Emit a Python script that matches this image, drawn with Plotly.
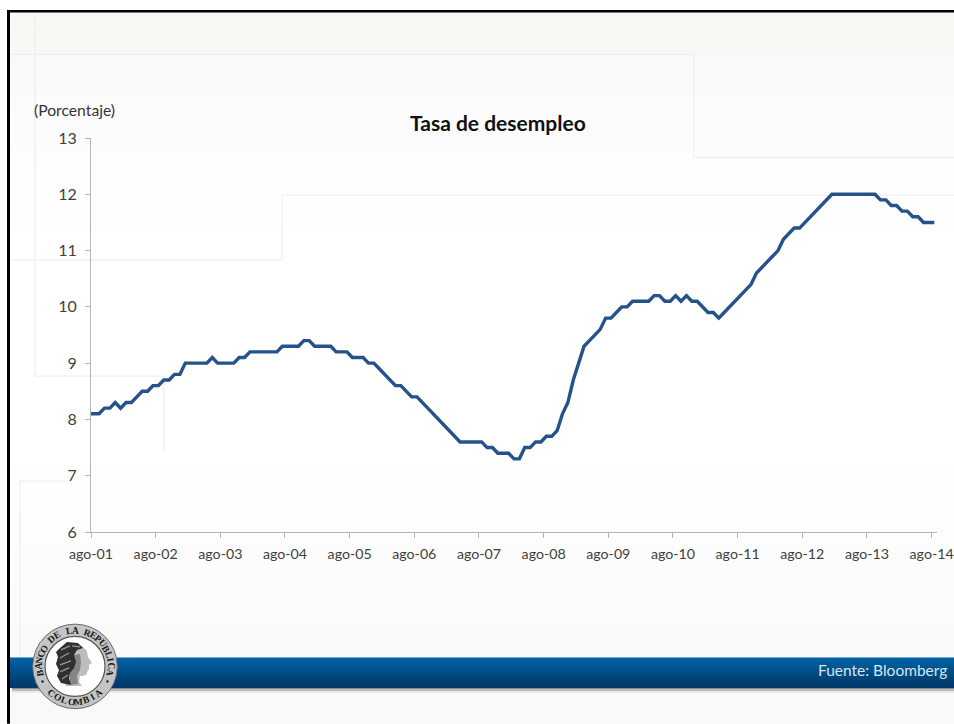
import math
import plotly.graph_objects as go

tasa = [
 8.1,8.1,8.2,8.2,8.3,8.2,8.3,8.3,8.4,8.5,8.5,8.6,
 8.6,8.7,8.7,8.8,8.8,9.0,9.0,9.0,9.0,9.0,9.1,9.0,
 9.0,9.0,9.0,9.1,9.1,9.2,9.2,9.2,9.2,9.2,9.2,9.3,
 9.3,9.3,9.3,9.4,9.4,9.3,9.3,9.3,9.3,9.2,9.2,9.2,
 9.1,9.1,9.1,9.0,9.0,8.9,8.8,8.7,8.6,8.6,8.5,8.4,
 8.4,8.3,8.2,8.1,8.0,7.9,7.8,7.7,7.6,7.6,7.6,7.6,
 7.6,7.5,7.5,7.4,7.4,7.4,7.3,7.3,7.5,7.5,7.6,7.6,
 7.7,7.7,7.8,8.1,8.3,8.7,9.0,9.3,9.4,9.5,9.6,9.8,
 9.8,9.9,10.0,10.0,10.1,10.1,10.1,10.1,10.2,10.2,10.1,10.1,
 10.2,10.1,10.2,10.1,10.1,10.0,9.9,9.9,9.8,9.9,10.0,10.1,
 10.2,10.3,10.4,10.6,10.7,10.8,10.9,11.0,11.2,11.3,11.4,11.4,
 11.5,11.6,11.7,11.8,11.9,12.0,12.0,12.0,12.0,12.0,12.0,12.0,
 12.0,12.0,11.9,11.9,11.8,11.8,11.7,11.7,11.6,11.6,11.5,11.5,11.5,
]
tick_labels = ["ago-%02d" % y for y in range(1, 15)]
y_ticks = [6, 7, 8, 9, 10, 11, 12, 13]
titulo = "Tasa de desempleo"
unidad = "(Porcentaje)"
fuente = "Fuente: Bloomberg"

W, H = 954, 724
FIG_W = 975  # the window cuts the last tick label at 954, as in the reference
L, R, T, B = 91.0, 937.0, 137.7, 532.0
px = lambda x: (x - L) / (R - L)
py = lambda y: (B - y) / (B - T)

shapes = []
def rect(x0, y0, x1, y1, color, layer="below"):
    shapes.append(dict(type="rect", xref="paper", yref="paper", x0=px(x0), x1=px(x1),
                       y0=py(y0), y1=py(y1), fillcolor=color, line_width=0, layer=layer))
def seg(pts, color="#efefef", width=1.2, layer="below"):
    for (a, b), (c, d) in zip(pts, pts[1:]):
        shapes.append(dict(type="line", xref="paper", yref="paper", x0=px(a), x1=px(c),
                           y0=py(b), y1=py(d), line=dict(color=color, width=width), layer=layer))
def lerp(c1, c2, t):
    return "rgb(%d,%d,%d)" % tuple(round(a + (b - a) * t) for a, b in zip(c1, c2))
def circle(cx, cy, r, fill, line=None, lw=0, layer="above"):
    shapes.append(dict(type="circle", xref="paper", yref="paper", x0=px(cx - r), x1=px(cx + r),
                       y0=py(cy + r), y1=py(cy - r), fillcolor=fill,
                       line=dict(color=line or fill, width=lw), layer=layer))
def poly(pts, fill, layer="above"):
    d = "M" + " L".join("%.5f,%.5f" % (px(a), py(b)) for a, b in pts) + " Z"
    shapes.append(dict(type="path", xref="paper", yref="paper", path=d, fillcolor=fill,
                       line_width=0, layer=layer))

# Slide background: each strip runs to the bottom so that no seams appear
for i in range(12):
    rect(10, 12 + i * 8, FIG_W, H, lerp((247, 247, 243), (251, 251, 251), i / 11))
for i in range(16):
    rect(10, 108 + i * 20, FIG_W, H, lerp((252, 252, 252), (255, 255, 255), min(1, i / 6)))
for i in range(12):
    rect(10, 428 + i * 20, FIG_W, H, lerp((255, 255, 255), (250, 250, 250), i / 11))
rect(10, 668, FIG_W, H, "#f9f9f9")
# Faint decorative frames
seg([(10, 54), (694, 54), (694, 157), (FIG_W, 157)])
seg([(35, 12), (35, 376), (164, 376), (164, 452)])
seg([(10, 260), (282, 260), (282, 195), (FIG_W, 195)])
seg([(20, 680), (20, 481), (65, 481)])
# Black frame
rect(7, 9.5, FIG_W, 12, "#000000", "above")
rect(7, 9.5, 10, H, "#000000", "above")
# Shadow then blue band
rect(12, 687, FIG_W, 689.5, "#8a8a8a", "above")
rect(12, 689.5, FIG_W, 691, "#bdbdbd", "above")
rect(12, 691, FIG_W, 692.5, "#e6e6e6", "above")
for i in range(15):
    rect(10, 657.5 + i * 2, FIG_W, 687.5, lerp((0, 98, 164), (0, 56, 104), i / 14), "above")

# Seal
CX, CY = 75, 666.5
circle(CX, CY, 42.3, "#c4c4c4", "#6a6a6a", 1)
circle(CX, CY, 30, "#ffffff", "#555555", 1.2)
poly([(72, 645), (82, 646), (87, 651), (88, 657), (92, 663), (89, 665), (89, 669), (87, 672),
      (87, 674), (83, 676), (80, 676), (79, 682), (82, 686), (66, 686), (62, 678)], "#bdbdbd")
poly([(74, 655), (80, 654), (81, 662), (80, 670), (77, 676), (78, 684), (70, 685), (70, 672)], "#858585")
poly([(60, 648), (67, 642), (78, 643), (83, 648), (77, 650), (74, 655), (76, 662), (74, 668),
      (70, 673), (69, 678), (71, 685), (61, 683), (57, 676), (59, 670), (56, 664), (58, 657),
      (56, 652)], "#303030")
for a, b, c, d in [(61, 650, 70, 646), (60, 658, 69, 653), (60, 665, 71, 661),
                   (60, 672, 69, 668), (62, 679, 68, 675), (72, 646, 80, 647)]:
    seg([(a, b), (c, d)], "#9a9a9a", 1.2, "above")

annots = []
def note(x, y, text, size, color, angle=0, bold=False, family="Lato", anchor="center"):
    annots.append(dict(xref="paper", yref="paper", x=px(x), y=py(y), text=("<b>%s</b>" % text) if bold else text,
                       showarrow=False, xanchor=anchor, yanchor="middle", textangle=angle,
                       font=dict(size=size, color=color, family=family)))

arc_top = "BANCO DE LA REPUBLICA"
a0, a1 = -100, 100
for k, ch in enumerate(arc_top):
    ang = a0 + (a1 - a0) * k / (len(arc_top) - 1)
    rad = math.radians(ang)
    note(CX + 35.8 * math.sin(rad), CY - 35.8 * math.cos(rad), ch, 9.5, "#151515", ang, True, "Liberation Serif")
arc_bot = "COLOMBIA"
a0, a1 = -42, 42
for k, ch in enumerate(arc_bot):
    ang = a0 + (a1 - a0) * k / (len(arc_bot) - 1)
    rad = math.radians(ang)
    note(CX + 35.8 * math.sin(rad), CY + 35.8 * math.cos(rad), ch, 9.5, "#151515", -ang, True, "Liberation Serif")
for sgn in (-1, 1):
    circle(CX + sgn * 35.8 * math.sin(math.radians(115)), CY - 35.8 * math.cos(math.radians(115)), 1.2, "#222222")

note(497.5, 122.5, titulo, 21, "#111111", bold=True)
note(32, 109.5, unidad, 15.7, "#333333", anchor="left")
note(949, 670, fuente, 15.5, "#d6e6f2", anchor="right")

# The drawn line reaches the value axis at its first value
x_vals = [0] + [i + 0.5 for i in range(len(tasa))]
y_vals = [tasa[0]] + tasa

fig = go.Figure(go.Scatter(
    x=x_vals, y=y_vals, mode="lines",
    line=dict(color="#24528a", width=3.4),
    hoverinfo="skip", cliponaxis=False))

fig.update_layout(
    width=FIG_W, height=H, autosize=False,
    margin=dict(l=L, r=FIG_W - R, t=T, b=H - B, pad=0),
    paper_bgcolor="#ffffff", plot_bgcolor="rgba(0,0,0,0)",
    showlegend=False, shapes=shapes, annotations=annots,
    font=dict(family="Lato", color="#3a3a3a"),
)
fig.update_xaxes(range=[0, len(tasa)], tickmode="array",
                 tickvals=[12 * i for i in range(len(tick_labels))], ticktext=tick_labels,
                 tickangle=0, ticks="outside", ticklen=5, tickwidth=1, tickcolor="#b4b4b4",
                 showline=True, linecolor="#b4b4b4", linewidth=1, showgrid=False, zeroline=False,
                 ticklabelstandoff=4,
                 tickfont=dict(size=14.2, color="#3f3f3f", family="Lato"))
fig.update_yaxes(range=[6, 13], tickmode="array", tickvals=y_ticks, ticks="outside",
                 ticklen=5, tickwidth=1, tickcolor="#b4b4b4",
                 showline=True, linecolor="#b4b4b4", linewidth=1, showgrid=False, zeroline=False,
                 ticklabelstandoff=5,
                 tickfont=dict(size=16, color="#3f3f3f", family="Lato"))

fig.write_html("out.html", config={"displayModeBar": False},
               post_script="document.body.style.margin='0';document.body.style.overflow='hidden';")
